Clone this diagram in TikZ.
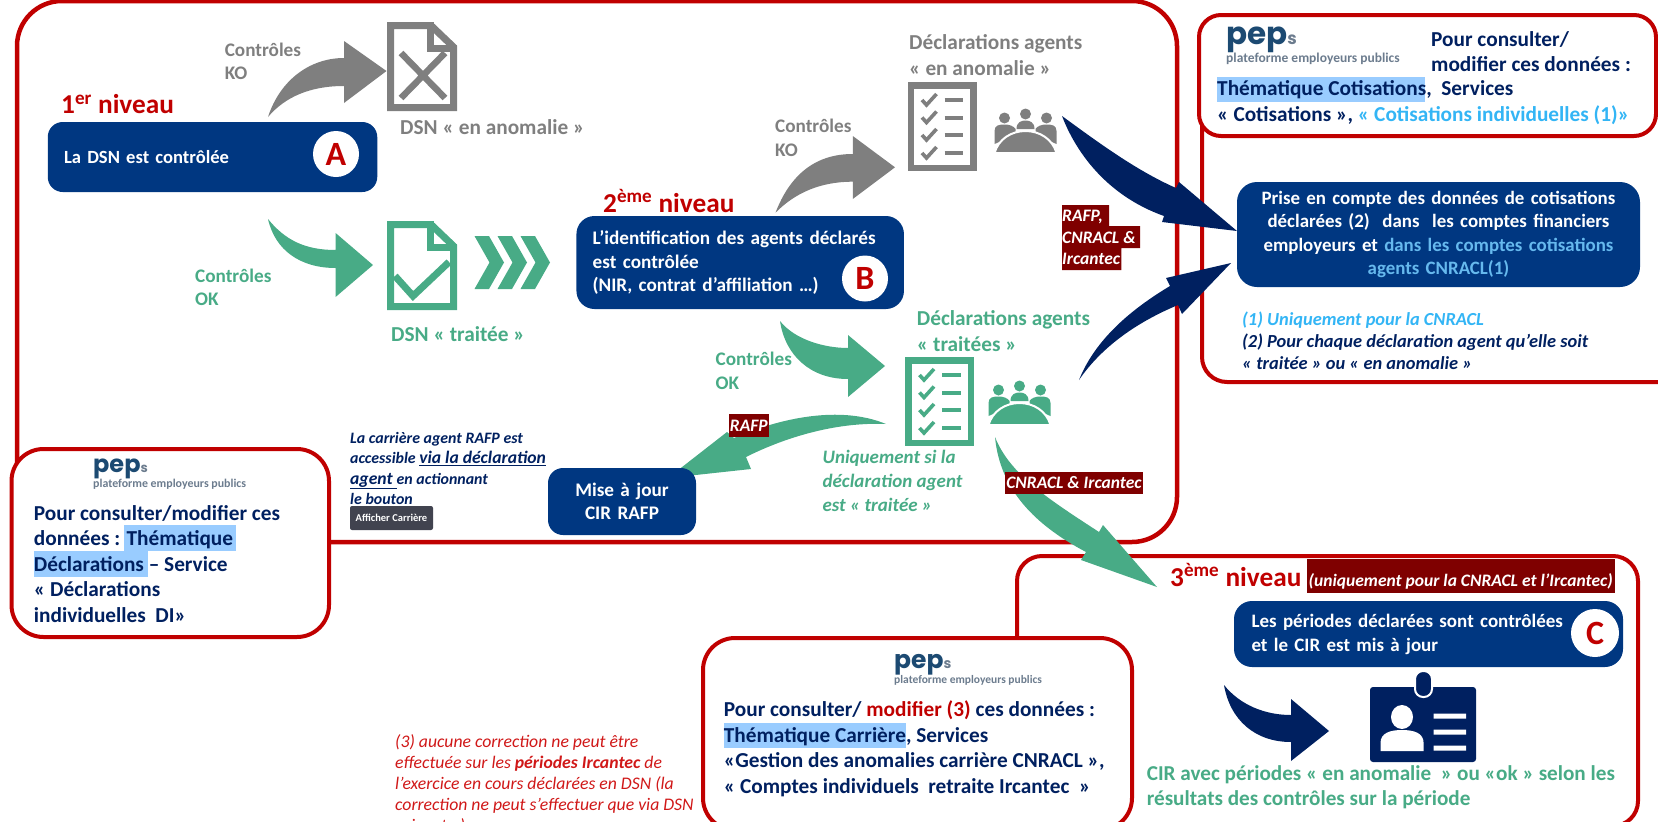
\documentclass[tikz,border=0pt]{standalone}
\usepackage{fontspec}
\setmainfont{Carlito}
\newfontfamily\logofont{Poppins}
\definecolor{boxblue}{HTML}{003781}
\definecolor{navy}{HTML}{002060}
\definecolor{okgreen}{HTML}{48AB86}
\definecolor{kogray}{HTML}{7F7F7F}
\definecolor{framered}{HTML}{C00000}
\definecolor{tagred}{HTML}{7F0000}
\definecolor{hilite}{HTML}{99CCFF}
\definecolor{skytext}{HTML}{33B5F5}
\definecolor{skybox}{HTML}{66B9EE}
\definecolor{notered}{HTML}{D01818}
\definecolor{logoblue}{HTML}{1C4A72}
\definecolor{logogray}{HTML}{6C7C8E}
\definecolor{btngray}{HTML}{41434F}
\newcommand{\fsz}[2]{\fontsize{#1}{#2}\selectfont}
\tikzset{
  frame/.style={draw=framered,line width=4.5pt},
  panel/.style={draw=framered,line width=4pt,fill=white},
  bluebox/.style={fill=boxblue,text=white,rounded corners=15pt,inner sep=0pt,font=\fsz{19.2}{23.5}\bfseries},
  badge/.style={circle,fill=white,text=framered,minimum size=46pt,inner sep=0pt,font=\fsz{34}{36}\bfseries},
  txt/.style={inner sep=0pt,anchor=west,align=left},
  lvl/.style={txt,text=framered,font=\fsz{27.3}{30}\bfseries},
  grayt/.style={txt,text=kogray,font=\fsz{19.2}{23.5}\bfseries},
  greent/.style={txt,text=okgreen,font=\fsz{19.2}{23.5}\bfseries},
  bigl/.style={font=\fsz{21.3}{26}\bfseries},
  navyt/.style={txt,text=navy,font=\fsz{21.3}{25.5}\bfseries},
  tag/.style={inner sep=0pt,text=white,font=\fsz{17.5}{21.5}\bfseries\itshape},
  tagbg/.style={fill=tagred},
  hl/.style={fill=hilite},
}
\newcommand{\docicon}[2]{% colour, y offset and height
  \begin{scope}[draw=#1,line width=7pt,miter limit=10]
  \draw (390.5,#2+3.5) -- (431,#2+3.5) -- (453.5,#2+25) -- (453.5,#2+85.5) -- (390.5,#2+85.5) -- cycle;
  \draw (430,#2) -- (430,#2+26.5) -- (457,#2+26.5);
  \end{scope}}
\newcommand{\chklist}[3]{% colour, x, y
  \begin{scope}[shift={(#2,#3)}]
  \draw[#1,line width=6.5pt] (3.25,3.25) rectangle (65.75,85.75);
  \foreach \r in {18,35.5,53,71}{
    \draw[#1,line width=3.6pt] (14.5,\r) -- (19,\r+5) -- (29,\r-6);
    \draw[#1,line width=4pt] (37,\r) -- (55.5,\r);
  }
  \end{scope}}
\newcommand{\people}[3]{% colour, x of centre, y of table base
  \begin{scope}[shift={(#2,#3)}]
  \fill[#1] (-21,-35) circle (5.5) (0,-39) circle (5.5) (21,-35) circle (5.5);
  \fill[#1] (-31,-9) -- (-31,-22) .. controls (-31,-28) and (-26,-28.5) .. (-21,-28.5) .. controls (-16,-28.5) and (-12,-27) .. (-10,-24) -- (-10,-18) -- cycle;
  \fill[#1] (31,-9) -- (31,-22) .. controls (31,-28) and (26,-28.5) .. (21,-28.5) .. controls (16,-28.5) and (12,-27) .. (10,-24) -- (10,-18) -- cycle;
  \fill[#1] (-9,-24) .. controls (-9,-31) and (-4,-32.5) .. (0,-32.5) .. controls (4,-32.5) and (9,-31) .. (9,-24) -- cycle;
  \fill[#1,draw=white,line width=2pt] (-31,0) .. controls (-27,-14) and (-14,-22) .. (0,-22) .. controls (14,-22) and (27,-14) .. (31,0) -- cycle;
  \end{scope}}
\newcommand{\peplogo}[6]{% name, x, y of base, size, s size, subtitle size
  \node (#1) [inner sep=0pt,anchor=base west,text=logoblue,font=\logofont\fsz{#4}{#4}\bfseries] at (#2,#3) {pep\textcolor{logogray}{\fsz{#5}{#5}s}};
  \node (#1sub) [inner sep=0pt,anchor=north west,text=logogray,font=\fsz{#6}{#6}\bfseries] at (#1.south west) {plateforme employeurs publics};}
\begin{document}
\begin{tikzpicture}[x=1pt,y=-1pt]
\useasboundingbox (0,0) rectangle (1658,822);
\clip (0,0) rectangle (1658,822);

% frames
\draw[frame,rounded corners=45pt] (17,1) rectangle (1177,542);
\draw[frame,line width=4pt,rounded corners=25pt] (1202,60) rectangle (1690,382);
\draw[frame,line width=4pt,rounded corners=25pt] (1017,556) rectangle (1638,826);

% panels
\draw[panel,rounded corners=22pt] (1199,15) rectangle (1656,136);
\draw[panel,rounded corners=32pt] (11.5,449) rectangle (329,637);
\draw[panel,rounded corners=32pt] (703,638) rectangle (1132,830);

% highlights
\fill[hl] (1217,77) rectangle (1425,102);
\fill[hl] (124,525) rectangle (236,551);
\fill[hl] (33.7,551) rectangle (148,577);
\fill[hl] (724,723) rectangle (906,748);

% logos
\peplogo{logoT}{1226}{44}{31}{17}{13.5}
\peplogo{logoL}{93}{472}{24}{13}{11.9}
\peplogo{logoC}{894}{668}{25}{14}{11.5}

% gray arrows and icons
\fill[kogray] (268,117) .. controls (280,80) and (310,58) .. (344,58) -- (344,41) -- (386.5,71) -- (344,103) -- (344,86) .. controls (310,86) and (285,97) .. (268,117) -- cycle;
\docicon{kogray}{22}
\draw[kogray,line width=6.5pt] (401,53) -- (445,98) (445,53) -- (401,98);
\fill[kogray] (775.5,212.7) .. controls (790,175) and (815,154) .. (852.8,154) -- (852.8,136) -- (895,167.3) -- (852.8,199) -- (852.8,181.7) .. controls (820,181.7) and (795,193) .. (775.5,212.7) -- cycle;
\chklist{kogray}{907.5}{82}
\people{kogray}{1025.5}{153}

% green arrows and icons
\fill[okgreen] (268,219) .. controls (285,240) and (305,250) .. (335.6,250) -- (335.6,233) -- (373,265) -- (335.6,297) -- (335.6,268) .. controls (300,268) and (275,250) .. (268,219) -- cycle;
\docicon{okgreen}{221}
\draw[okgreen,line width=7pt] (395,276) -- (413,296) -- (449,262);
\foreach \d in {0,23,46}{
  \fill[okgreen] (474.5+\d,236) -- (489+\d,236) -- (504+\d,262.5) -- (489+\d,289) -- (474.5+\d,289) -- (489.5+\d,262.5) -- cycle;
}
\fill[okgreen] (780,321) .. controls (795,340) and (825,348) .. (848,348) -- (848,335) -- (885,366) -- (848,397) -- (848,379) .. controls (810,379) and (785,355) .. (780,321) -- cycle;
\chklist{okgreen}{905}{357}
\people{okgreen}{1019.5}{425}
\fill[okgreen] (886,424) .. controls (840,405) and (780,418) .. (734,438) -- (727,432) -- (668,478) -- (751,469) -- (746,457) .. controls (790,435) and (840,422) .. (886,424) -- cycle;
\fill[okgreen] (995,437) .. controls (1010,475) and (1050,500) .. (1099,532) -- (1103,525) -- (1157,587) -- (1081,560) -- (1086,552) .. controls (1035,525) and (1000,490) .. (995,437) -- cycle;

% navy arrows
\fill[navy] (1062,116) .. controls (1095,140) and (1135,170) .. (1176,188) -- (1179,182) -- (1237,231) -- (1162,222) -- (1164,216) .. controls (1105,195) and (1075,150) .. (1062,116) -- cycle;
\fill[navy] (1079,380) .. controls (1095,340) and (1130,310) .. (1170,286) -- (1166,278) -- (1231,263) -- (1182,314) -- (1178,305) .. controls (1130,325) and (1098,352) .. (1079,380) -- cycle;
\fill[navy] (1224,685) .. controls (1240,705) and (1265,715) .. (1291,715) -- (1291,699) -- (1329,731) -- (1291,761) -- (1291,742) .. controls (1255,742) and (1230,720) .. (1224,685) -- cycle;

% blue boxes
\node (boxA) [bluebox,minimum width=329.5pt,minimum height=70pt,text width=297pt,align=left,font=\fsz{18.6}{23.5}\bfseries] at (212.5,157) {La DSN est contrôlée};
\node (boxB) [bluebox,minimum width=327.5pt,minimum height=93pt,text width=295pt,align=left,rounded corners=18pt] at (740.2,262.5) {L’identification des agents déclarés\\est contrôlée\\(NIR, contrat d’affiliation …)};
\node (boxP) [bluebox,minimum width=403pt,minimum height=105pt,text width=390pt,align=center,rounded corners=20pt,font=\fsz{18.9}{23.5}\bfseries] at (1438.5,234.5) {Prise en compte des données de cotisations\\déclarées (2)~ dans~ les comptes financiers\\employeurs et \textcolor{skybox}{dans les comptes cotisations}\\\textcolor{skybox}{agents CNRACL(1)}};
\node (boxC) [bluebox,minimum width=389pt,minimum height=66pt,text width=354pt,align=left,rounded corners=18pt,font=\fsz{19}{24}\bfseries] at (1428.5,634) {Les périodes déclarées sont contrôlées\\et le CIR est mis à jour};
\node (boxM) [bluebox,minimum width=148pt,minimum height=67pt,text width=140pt,align=center] at (622,501.5) {Mise à jour\\CIR RAFP};
\node (badgeA) [badge] at (336,154) {A};
\node (badgeB) [badge] at (865,278.5) {B};
\node (badgeC) [badge,minimum size=48pt] at (1595,633) {C};

% ID card
\fill[navy,rounded corners=3pt] (1370,687) rectangle (1476,762);
\fill[navy,draw=white,line width=2pt,rounded corners=8pt] (1415,671) rectangle (1432,697);
\fill[white] (1402,717) ellipse (11 and 12);
\fill[white] (1380.5,751) -- (1380.5,743) .. controls (1380.5,733) and (1390,730) .. (1402,730) .. controls (1414,730) and (1423.6,733) .. (1423.6,743) -- (1423.6,751) -- cycle;
\fill[white] (1433.6,713.5) rectangle (1466,718.5) (1433.6,729.5) rectangle (1466,734.5) (1433.6,745.5) rectangle (1466,750.5);

% level titles
\node (lvl1) [lvl] at (61,104) {1\textsuperscript{er} niveau};
\node (lvl2) [lvl] at (603,201) {2\textsuperscript{ème} niveau};
\node (lvl3) [lvl] at (1170,575) {3\textsuperscript{ème} niveau};

% gray and green labels
\node (koA) [grayt] at (224.6,61.5) {Contrôles\\KO};
\node (dsnKO) [grayt,bigl] at (400,127) {DSN « en anomalie »};
\node (okA) [greent] at (195,287.5) {Contrôles\\OK};
\node (dsnOK) [greent,bigl] at (391,334) {DSN « traitée »};
\node (koB) [grayt] at (775,138) {Contrôles\\KO};
\node (declKO) [grayt,bigl] at (909,55) {Déclarations agents\\« en anomalie »};
\node (declOK) [greent,bigl] at (916.7,331) {Déclarations agents\\« traitées »};
\node (okB) [greent] at (715.5,371) {Contrôles\\OK};
\node (only) [greent,font=\fsz{19}{24}\bfseries\itshape] at (822.4,481) {Uniquement si la\\déclaration agent\\est « traitée »};
\node (cirT) [greent,font=\fsz{21.2}{25}\bfseries] at (1146.6,787.5) {CIR avec périodes « en anomalie~ » ou «ok » selon les\\résultats des contrôles sur la période};

% dark red tags
\fill[tagbg] (1062,205) rectangle (1109,226) (1062,226) rectangle (1140,248) (1062,248) rectangle (1121.4,270);
\node (tagAll) [tag,txt] at (1062,237.5) {RAFP,\\CNRACL \&\\Ircantec};
\node (tagR) [tag,fill=tagred,minimum width=39.6pt,minimum height=23pt] at (748.8,425.5) {RAFP};
\node (tagC) [tag,fill=tagred,minimum width=138pt,minimum height=22pt] at (1074,483) {CNRACL \& Ircantec};
\fill[tagbg] (1307,559) rectangle (1614.5,593);
\node (tagL) [tag] at (1460.7,581) {(uniquement pour la CNRACL et l’Ircantec)};

% panel texts
\node (txtT1) [navyt] at (1431,51.5) {Pour consulter/\\modifier ces données :};
\node (txtT2) [navyt] at (1217,102.5) {Thématique Cotisations,~ Services\\« Cotisations », \textcolor{skytext}{« Cotisations individuelles (1)»}};
\node (notes) [navyt,font=\fsz{18.4}{22}\bfseries\itshape] at (1242,341) {\textcolor{skytext}{(1) Uniquement pour la CNRACL}\\(2) Pour chaque déclaration agent qu’elle soit\\« traitée » ou « en anomalie »};
\node (txtL) [navyt] at (33.7,564) {Pour consulter/modifier ces\\données : Thématique\\Déclarations – Service\\« Déclarations\\individuelles~ DI»};
\node (txtC) [navyt] at (723.7,749) {Pour consulter/ \textcolor{framered}{modifier (3)} ces données :\\Thématique Carrière, Services\\«Gestion des anomalies carrière CNRACL »,\\« Comptes individuels~ retraite Ircantec~ »};

% career note and button
\node (career) [navyt,font=\fsz{15.9}{20.5}\bfseries\itshape] at (350,468.5) {La carrière agent RAFP est\\accessible {\fsz{17.6}{20.5}\underline{via la déclaration}}\\{\fsz{17.6}{20.5}\underline{agent }}en actionnant\\le bouton};
\node (button) [fill=btngray,text=white,rounded corners=2pt,inner sep=0pt,minimum width=83pt,minimum height=24pt,font=\fsz{10.5}{12}\bfseries] at (391.5,518) {Afficher Carrière};

% red note
\node (redNote) [txt,text=notered,font=\fsz{17.7}{21}\itshape] at (395,784) {(3) aucune correction ne peut être\\effectuée sur les \textbf{périodes Ircantec} de\\l’exercice en cours déclarées en DSN (la\\correction ne peut s’effectuer que via DSN\\suivante.)};
\end{tikzpicture}
\end{document}
